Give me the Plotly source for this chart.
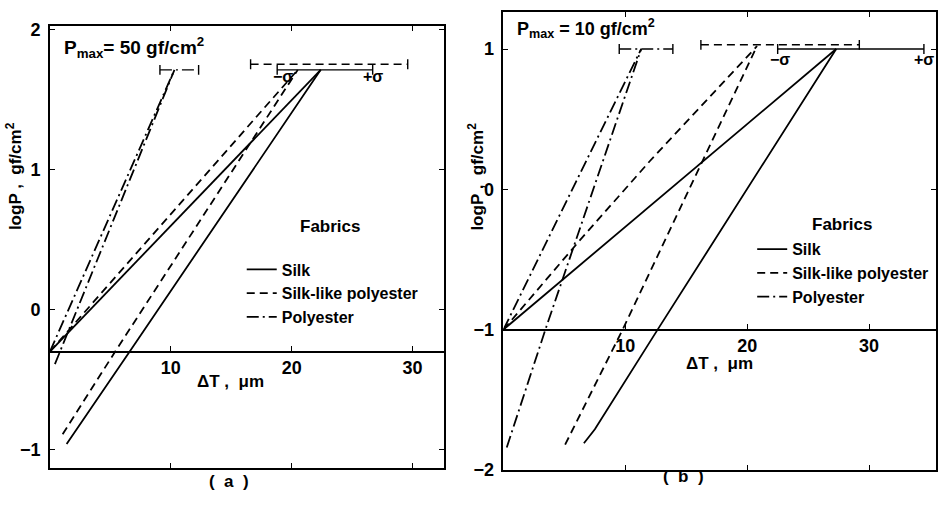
import plotly.graph_objects as go

W, H = 938, 506

# ---------------- data : panel (a)  Pmax = 50 gf/cm2 ----------------
a_silk_load_x = [0.0, 22.4]
a_silk_load_y = [-0.30, 1.71]
a_silk_unload_x = [1.38, 6.6, 22.4]
a_silk_unload_y = [-0.96, -0.30, 1.71]
a_slp_load_x = [0.0, 20.5]
a_slp_load_y = [-0.30, 1.71]
a_slp_unload_x = [1.05, 5.4, 20.5]
a_slp_unload_y = [-0.89, -0.30, 1.71]
a_pol_load_x = [0.0, 10.3]
a_pol_load_y = [-0.30, 1.71]
a_pol_unload_x = [0.41, 10.3]
a_pol_unload_y = [-0.39, 1.71]
# error bars (silk, silk-like polyester, polyester)
a_bar_mean = [22.75, 23.1, 10.7]
a_bar_sigma = [3.95, 6.5, 1.6]
a_bar_level = [1.71, 1.75, 1.71]
a_base = -0.30          # log(0.5)

# ---------------- data : panel (b)  Pmax = 10 gf/cm2 ----------------
b_silk_load_x = [0.0, 27.3]
b_silk_load_y = [-1.0, 1.0]
b_silk_unload_x = [6.6, 7.5, 12.65, 27.3]
b_silk_unload_y = [-1.81, -1.71, -1.0, 1.0]
b_slp_load_x = [0.0, 6.2, 12.0, 20.8]
b_slp_load_y = [-1.0, -0.37, 0.20, 1.02]
b_slp_unload_x = [5.06, 9.78, 20.8]
b_slp_unload_y = [-1.82, -1.0, 1.02]
b_pol_load_x = [0.0, 11.3]
b_pol_load_y = [-1.0, 1.0]
b_pol_unload_x = [0.27, 3.44, 11.3]
b_pol_unload_y = [-1.84, -1.0, 1.0]
b_bar_mean = [28.5, 22.7, 11.7]
b_bar_sigma = [6.0, 6.5, 2.2]
b_bar_level = [1.0, 1.03, 1.0]
b_base = -1.0

fabric_names = ["Silk", "Silk-like polyester", "Polyester"]
x_ticks = [10, 20, 30]
a_y_ticks = [-1, 0, 1, 2]
b_y_ticks = [-2, -1, 0, 1]

# ---------------- styling ----------------
FONT = "Liberation Sans"
DASHES = ["solid", "8px,5px", "12px,4px,2px,4px"]
LW = 1.8


def fx(px):
    return px / W


def fy(py):
    return 1 - py / H


fig = go.Figure()

panels = [
    dict(xa="x", ya="y", leg="legend",
         series=[(a_silk_load_x, a_silk_load_y, a_silk_unload_x, a_silk_unload_y),
                 (a_slp_load_x, a_slp_load_y, a_slp_unload_x, a_slp_unload_y),
                 (a_pol_load_x, a_pol_load_y, a_pol_unload_x, a_pol_unload_y)],
         mean=a_bar_mean, sig=a_bar_sigma, lvl=a_bar_level),
    dict(xa="x2", ya="y2", leg="legend2",
         series=[(b_silk_load_x, b_silk_load_y, b_silk_unload_x, b_silk_unload_y),
                 (b_slp_load_x, b_slp_load_y, b_slp_unload_x, b_slp_unload_y),
                 (b_pol_load_x, b_pol_load_y, b_pol_unload_x, b_pol_unload_y)],
         mean=b_bar_mean, sig=b_bar_sigma, lvl=b_bar_level),
]

for p in panels:
    for i, (lx, ly, ux, uy) in enumerate(p["series"]):
        line = dict(color="black", width=LW, dash=DASHES[i])
        fig.add_trace(go.Scatter(x=lx, y=ly, mode="lines", line=line, name=fabric_names[i],
                                 xaxis=p["xa"], yaxis=p["ya"], legend=p["leg"],
                                 hoverinfo="skip"))
        fig.add_trace(go.Scatter(x=ux, y=uy, mode="lines", line=line, showlegend=False,
                                 xaxis=p["xa"], yaxis=p["ya"], hoverinfo="skip"))
        m, s, lv = p["mean"][i], p["sig"][i], p["lvl"][i]
        fig.add_trace(go.Scatter(x=[m - s, m + s], y=[lv, lv], mode="lines+markers",
                                 line=dict(color="black", width=1.4, dash=DASHES[i]),
                                 marker=dict(symbol="line-ns", size=7,
                                             line=dict(color="black", width=1.4)),
                                 showlegend=False, xaxis=p["xa"], yaxis=p["ya"],
                                 hoverinfo="skip"))

# dummy traces for the free (crossing) x axes
fig.add_trace(go.Scatter(x=[None], y=[None], xaxis="x3", yaxis="y", showlegend=False))
fig.add_trace(go.Scatter(x=[None], y=[None], xaxis="x4", yaxis="y2", showlegend=False))

tickfont = dict(family=FONT, size=18, color="black", weight="bold")

# panel geometry (pixels)
a_left, a_right, a_top, a_bot = 50, 444, 20, 477
b_left, b_right, b_top, b_bot = 504, 937, 5, 479
a_xr = [0, (a_right - a_left) / 12.1]
a_yr = [(313 - a_bot) / 145.0, (313 - a_top) / 145.0]
b_xr = [0, (b_right - b_left) / 12.2]
b_yr = [-2.0, 1.265]

a_ydom = [fy(a_bot), fy(a_top)]
b_ydom = [fy(b_bot), fy(b_top)]
pos_a = a_ydom[0] + (a_base - a_yr[0]) / (a_yr[1] - a_yr[0]) * (a_ydom[1] - a_ydom[0])
pos_b = b_ydom[0] + (b_base - b_yr[0]) / (b_yr[1] - b_yr[0]) * (b_ydom[1] - b_ydom[0])

box = dict(showline=True, linecolor="black", linewidth=1.5, mirror="ticks",
           ticks="inside", ticklen=5, tickwidth=1.3, tickcolor="black",
           showgrid=False, zeroline=False)

fig.update_layout(
    width=W, height=H,
    margin=dict(l=0, r=0, t=0, b=0),
    paper_bgcolor="white", plot_bgcolor="white",
    font=dict(family=FONT, color="black", weight="bold"),
    xaxis=dict(domain=[fx(a_left), fx(a_right)], range=a_xr, tickvals=x_ticks,
               showticklabels=False, anchor="y", **box),
    yaxis=dict(domain=a_ydom, range=a_yr, tickvals=a_y_ticks, tickfont=tickfont,
               ticklabelstandoff=4, anchor="x", **box),
    xaxis2=dict(domain=[fx(b_left), fx(b_right)], range=b_xr, tickvals=x_ticks,
                showticklabels=False, anchor="y2", **box),
    yaxis2=dict(domain=b_ydom, range=b_yr, tickvals=b_y_ticks, tickfont=tickfont,
                ticklabelstandoff=4, anchor="x2", **box),
    xaxis3=dict(overlaying="x", anchor="free", position=pos_a, range=a_xr,
                tickvals=x_ticks, tickfont=tickfont, showline=True, linecolor="black",
                linewidth=1.5, ticks="inside", ticklen=5, tickcolor="black",
                showgrid=False, zeroline=False),
    xaxis4=dict(overlaying="x2", anchor="free", position=pos_b, range=b_xr,
                tickvals=x_ticks, tickfont=tickfont, showline=True, linecolor="black",
                linewidth=1.5, ticks="inside", ticklen=5, tickcolor="black",
                showgrid=False, zeroline=False),
    legend=dict(x=fx(242), y=fy(254), xanchor="left", yanchor="top",
                bgcolor="rgba(0,0,0,0)", itemwidth=30, tracegroupgap=0,
                font=dict(family=FONT, size=16, color="black", weight="bold")),
    legend2=dict(x=fx(753), y=fy(233), xanchor="left", yanchor="top",
                 bgcolor="rgba(0,0,0,0)", itemwidth=30, tracegroupgap=0,
                 font=dict(family=FONT, size=16, color="black", weight="bold")),
)

txt = dict(family=FONT, size=16, color="black", weight="bold")


def ann(text, x, y, size=16, angle=0, xanchor="center"):
    fig.add_annotation(text=text, x=fx(x), y=fy(y), xref="paper", yref="paper",
                       showarrow=False, xanchor=xanchor, yanchor="middle",
                       textangle=angle, font=dict(txt, size=size))


ann("P<sub>max</sub>= 50 gf/cm<sup>2</sup>", 62, 42, size=19, xanchor="left")
ann("P<sub>max</sub> = 10 gf/cm<sup>2</sup>", 516, 22, size=18, xanchor="left")
ann("Fabrics", 330, 227, size=17)
ann("Fabrics", 843, 225, size=17)
ann("logP ,  gf/cm<sup>2</sup>", 14, 175, size=17, angle=-90)
ann("logP ,  gf/cm<sup>2</sup>", 477, 175, size=17, angle=-90)
ann("ΔT ,  μm", 231, 388, size=17)
ann("ΔT ,  μm", 720, 369, size=17)
ann("(  a  )", 229, 491, size=17)
ann("(  b  )", 684, 486, size=17)

# sigma labels at the ends of the silk error bars
for xa, ya, m, s, lv, ys, xs in [("x", "y", a_bar_mean[0], a_bar_sigma[0], a_bar_level[0], -7, 6),
                                 ("x2", "y2", b_bar_mean[0], b_bar_sigma[0], b_bar_level[0], -10, 2)]:
    fig.add_annotation(text="−σ", x=m - s, y=lv, xref=xa, yref=ya, showarrow=False,
                       yshift=ys, xshift=xs, font=dict(txt, size=16))
    fig.add_annotation(text="+σ", x=m + s, y=lv, xref=xa, yref=ya, showarrow=False,
                       yshift=ys, font=dict(txt, size=16))

fig.write_html("out.html", config={"displayModeBar": False},
               post_script="document.body.style.margin='0';"
               "document.body.style.overflow='hidden';")
